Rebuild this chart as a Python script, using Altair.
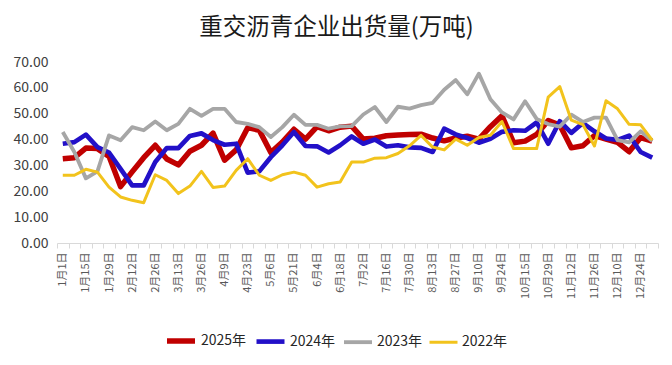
import json
import altair as alt
import pandas as pd

dates = ["1月1日", "1月8日", "1月15日", "1月22日", "1月29日", "2月5日", "2月12日", "2月19日",
         "2月26日", "3月6日", "3月13日", "3月19日", "3月26日", "4月2日", "4月9日", "4月16日",
         "4月23日", "4月30日", "5月6日", "5月14日", "5月21日", "5月28日", "6月4日", "6月11日",
         "6月18日", "6月25日", "7月2日", "7月9日", "7月16日", "7月23日", "7月30日", "8月6日",
         "8月13日", "8月20日", "8月27日", "9月3日", "9月10日", "9月17日", "9月24日", "10月8日",
         "10月15日", "10月22日", "10月29日", "11月5日", "11月12日", "11月19日", "11月26日", "12月3日",
         "12月10日", "12月17日", "12月24日", "12月31日"]
shown_labels = dates[::2]

series_names = ["2025年", "2024年", "2023年", "2022年"]
series_colors = ["#C00000", "#2210C8", "#A6A6A6", "#F2C31C"]
series_widths = [5.5, 3, 3, 3]

y2025 = [32.6, 33.0, 36.7, 36.5, 33.5, 21.8, 27.5, 33.0, 37.8, 32.5, 30.2, 35.5, 37.8,
         42.5, 32.0, 36.0, 44.6, 43.6, 35.0, 39.0, 44.0, 40.2, 45.0, 43.4, 44.8, 45.2,
         40.2, 40.5, 41.5, 41.8, 42.0, 42.1, 40.6, 39.5, 40.6, 41.3, 40.2, 45.0, 49.2,
         38.8, 39.4, 42.0, 47.4, 45.6, 36.8, 37.6, 41.5, 40.2, 38.9, 35.3, 40.8, 39.4]
y2024 = [38.4, 39.0, 41.9, 37.1, 35.0, 28.7, 22.3, 22.3, 31.3, 36.7, 36.7, 41.4, 42.4,
         39.8, 38.0, 38.4, 27.2, 27.7, 33.2, 37.8, 42.9, 37.5, 37.4, 35.0, 37.8, 41.2,
         38.4, 40.0, 37.3, 37.8, 37.0, 36.8, 35.2, 44.2, 42.0, 40.6, 38.8, 40.3, 43.0,
         43.6, 43.4, 46.6, 38.4, 47.1, 42.6, 46.4, 43.2, 40.4, 39.9, 41.5, 35.2, 33.0]
y2023 = [42.9, 35.2, 25.0, 27.7, 41.6, 39.7, 44.8, 43.6, 47.0, 43.6, 46.1, 51.9, 49.2,
         51.9, 51.9, 46.8, 46.1, 44.8, 41.0, 44.8, 49.6, 45.7, 45.7, 44.2, 45.1, 45.2,
         49.7, 52.6, 46.8, 52.7, 52.0, 53.3, 54.2, 59.3, 63.0, 57.5, 65.5, 55.6, 50.5,
         47.8, 54.8, 48.0, 46.0, 45.0, 49.6, 46.8, 48.5, 48.5, 39.8, 38.9, 43.2, 39.4]
y2022 = [26.2, 26.2, 28.5, 27.4, 21.6, 17.8, 16.5, 15.6, 26.4, 24.2, 19.1, 22.0, 27.7,
         21.5, 22.0, 28.1, 32.6, 26.2, 24.2, 26.4, 27.4, 26.2, 21.6, 22.9, 23.6, 31.3,
         31.3, 32.8, 33.0, 34.6, 37.6, 41.6, 37.1, 36.0, 40.2, 37.8, 40.8, 41.7, 47.0,
         36.5, 36.5, 36.5, 56.4, 60.5, 47.5, 45.8, 37.5, 55.0, 51.9, 45.9, 45.7, 39.8]

rows = []
for name, vals in zip(series_names, [y2025, y2024, y2023, y2022]):
    for d, v in zip(dates, vals):
        rows.append({"date": d, "value": v, "series": name})
df = pd.DataFrame(rows)

FONT = "Noto Sans CJK SC"
label_expr = "indexof(" + json.dumps(shown_labels, ensure_ascii=False) + ", datum.value) >= 0 ? datum.value : ''"

legend_opts = dict(title=None, orient="none", direction="horizontal",
                   legendX=107, legendY=262, symbolType="stroke",
                   symbolSize=784, labelFontSize=14, labelFont=FONT,
                   labelColor="#262626", columnPadding=0, labelOffset=3)

chart = alt.Chart(df).mark_line(strokeJoin="round").encode(
    x=alt.X("date:N", sort=dates, title=None,
            scale=alt.Scale(paddingInner=0, paddingOuter=0),
            axis=alt.Axis(labelAngle=-90, labelExpr=label_expr, labelOverlap=False,
                          labelFontSize=11, labelColor="#595959", labelFont=FONT,
                          domainColor="#D9D9D9", tickColor="#D9D9D9", tickSize=5,
                          tickBand="extent", labelPadding=4, grid=False)),
    y=alt.Y("value:Q", title=None,
            scale=alt.Scale(domain=[0, 70], nice=False),
            axis=alt.Axis(values=[0, 10, 20, 30, 40, 50, 60, 70], format=".2f",
                          labelFontSize=14, labelColor="#404040", labelFont=FONT,
                          domain=False, ticks=False, grid=False, labelPadding=9)),
    color=alt.Color("series:N", sort=series_names,
                    scale=alt.Scale(domain=series_names, range=series_colors),
                    legend=alt.Legend(**legend_opts)),
    strokeWidth=alt.StrokeWidth("series:N", sort=series_names,
                                scale=alt.Scale(domain=series_names, range=series_widths),
                                legend=alt.Legend(**legend_opts)),
).properties(
    width=601,
    height=181,
    autosize=alt.AutoSizeParams(type="none"),
    padding={"left": 49, "top": 54, "right": 6, "bottom": 114},
    title=alt.TitleParams("重交沥青企业出货量(万吨)", font=FONT, fontSize=23.5, fontWeight="normal",
                          color="#1A1A1A", anchor="middle", offset=16, dx=-21),
).configure_view(stroke=None)

chart.save("out.html", embed_options={"renderer": "svg", "actions": False})
